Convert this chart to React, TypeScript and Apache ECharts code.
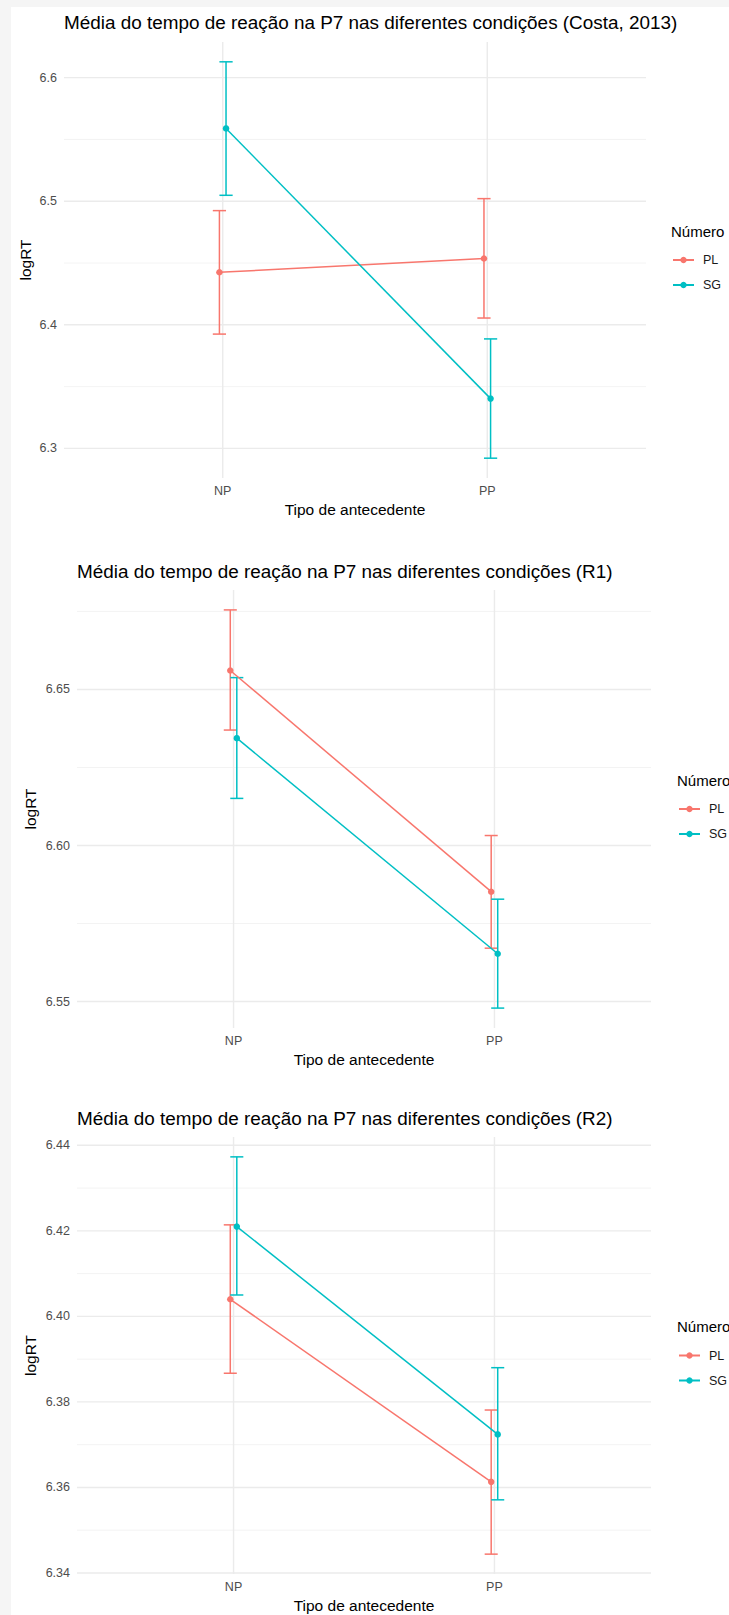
import React, { useEffect, useRef } from 'react';
import * as echarts from 'echarts';

// ---------- data ----------
const categories = ['NP', 'PP'];
const groups = ['PL', 'SG'];
const groupColors = ['#F8766D', '#00BFC4'];

const titles = [
  'Média do tempo de reação na P7 nas diferentes condições (Costa, 2013)',
  'Média do tempo de reação na P7 nas diferentes condições (R1)',
  'Média do tempo de reação na P7 nas diferentes condições (R2)',
];
const xAxisTitle = 'Tipo de antecedente';
const yAxisTitle = 'logRT';
const legendTitle = 'Número';

// Costa, 2013
const costaPLMean = [6.4425, 6.4537];
const costaPLLow = [6.3925, 6.4055];
const costaPLHigh = [6.4924, 6.5021];
const costaSGMean = [6.5589, 6.3403];
const costaSGLow = [6.5048, 6.2921];
const costaSGHigh = [6.6128, 6.3886];
const costaYTicks = [6.3, 6.4, 6.5, 6.6];
const costaYMinor = [6.35, 6.45, 6.55];

// R1
const r1PLMean = [6.6561, 6.5852];
const r1PLLow = [6.637, 6.5671];
const r1PLHigh = [6.6755, 6.6032];
const r1SGMean = [6.6344, 6.5653];
const r1SGLow = [6.6151, 6.5479];
const r1SGHigh = [6.6538, 6.5828];
const r1YTicks = [6.55, 6.6, 6.65];
const r1YMinor = [6.575, 6.625, 6.675];

// R2
const r2PLMean = [6.404, 6.3613];
const r2PLLow = [6.3867, 6.3444];
const r2PLHigh = [6.4214, 6.3781];
const r2SGMean = [6.421, 6.3724];
const r2SGLow = [6.405, 6.3571];
const r2SGHigh = [6.4373, 6.388];
const r2YTicks = [6.34, 6.36, 6.38, 6.4, 6.42, 6.44];
const r2YMinor = [6.35, 6.37, 6.39, 6.41, 6.43];

// ---------- layout ----------
const FONT = '"Liberation Sans", Arial, Helvetica, sans-serif';
const layouts = [
  { left: 64, top: 42, width: 582, height: 436, titleY: 22.5, yTitleX: 25, decimals: 1, legendX: 672 },
  { left: 77, top: 590, width: 574, height: 438, titleY: 571, yTitleX: 30, decimals: 2, legendX: 678 },
  { left: 77, top: 1137, width: 574, height: 437, titleY: 1118.5, yTitleX: 30, decimals: 2, legendX: 678 },
];
const DODGE = 0.0125;
const CAP = 0.025;

const panels = [
  {
    title: titles[0],
    series: [
      { mean: costaPLMean, low: costaPLLow, high: costaPLHigh },
      { mean: costaSGMean, low: costaSGLow, high: costaSGHigh },
    ],
    ticks: costaYTicks,
    minor: costaYMinor,
  },
  {
    title: titles[1],
    series: [
      { mean: r1PLMean, low: r1PLLow, high: r1PLHigh },
      { mean: r1SGMean, low: r1SGLow, high: r1SGHigh },
    ],
    ticks: r1YTicks,
    minor: r1YMinor,
  },
  {
    title: titles[2],
    series: [
      { mean: r2PLMean, low: r2PLLow, high: r2PLHigh },
      { mean: r2SGMean, low: r2SGLow, high: r2SGHigh },
    ],
    ticks: r2YTicks,
    minor: r2YMinor,
  },
];

function textEl(text: string, x: number, y: number, size: number, opts: any = {}) {
  const align = opts.align || 'left';
  return {
    type: 'text',
    x,
    y,
    rotation: opts.rotation || 0,
    silent: true,
    z: 10,
    style: {
      text,
      font: `${size}px ${FONT}`,
      fill: opts.fill || '#000000',
      align,
      textAlign: align,
      verticalAlign: 'middle',
      textVerticalAlign: 'middle',
    },
  };
}

function buildOption() {
  const grid: any[] = [];
  const xAxis: any[] = [];
  const yAxis: any[] = [];
  const series: any[] = [];
  const legend: any[] = [];
  const graphic: any[] = [];

  panels.forEach((p, i) => {
    const L = layouts[i];
    const allLow = Math.min(...p.series.flatMap((s) => s.low));
    const allHigh = Math.max(...p.series.flatMap((s) => s.high));
    const range = allHigh - allLow;
    const yMin = allLow - 0.05 * range;
    const yMax = allHigh + 0.05 * range;

    grid.push({ left: L.left, top: L.top, width: L.width, height: L.height, containLabel: false });
    xAxis.push({
      type: 'value',
      gridIndex: i,
      min: 0.4,
      max: 2.6,
      axisLine: { show: false },
      axisTick: { show: false },
      splitLine: { show: false },
      axisLabel: {
        customValues: [1, 2],
        margin: 6,
        color: '#4d4d4d',
        fontSize: 12.5,
        fontFamily: FONT,
        formatter: (v: number) => {
          const r = Math.round(v);
          return Math.abs(v - r) < 1e-6 && categories[r - 1] ? categories[r - 1] : '';
        },
      },
    });
    yAxis.push({
      type: 'value',
      gridIndex: i,
      min: yMin,
      max: yMax,
      axisLine: { show: false },
      axisTick: { show: false },
      splitLine: { show: false },
      axisLabel: {
        customValues: p.ticks,
        margin: 7,
        color: '#4d4d4d',
        fontSize: 12.5,
        fontFamily: FONT,
        formatter: (v: number) =>
          p.ticks.some((t) => Math.abs(t - v) < 1e-9) ? v.toFixed(L.decimals) : '',
      },
    });

    // horizontal grid lines (major + minor)
    series.push({
      type: 'custom',
      name: 'hgrid' + i,
      xAxisIndex: i,
      yAxisIndex: i,
      silent: true,
      z: 0,
      encode: { y: 0, x: 1 },
      data: [...p.ticks.map((v) => [v, 1]), ...p.minor.map((v) => [v, 0])],
      renderItem: (params: any, api: any) => {
        const cs = params.coordSys;
        const y = api.coord([1, api.value(0)])[1];
        const major = api.value(1) === 1;
        return {
          type: 'line',
          shape: { x1: cs.x, y1: y, x2: cs.x + cs.width, y2: y },
          style: { stroke: major ? '#EBEBEB' : '#F2F2F2', lineWidth: major ? 1.4 : 0.9 },
          silent: true,
        };
      },
    });
    // vertical grid lines at categories
    series.push({
      type: 'custom',
      name: 'vgrid' + i,
      xAxisIndex: i,
      yAxisIndex: i,
      silent: true,
      z: 0,
      encode: { x: 0, y: 1 },
      data: categories.map((_, k) => [k + 1, yMin]),
      renderItem: (params: any, api: any) => {
        const cs = params.coordSys;
        const x = api.coord([api.value(0), yMin])[0];
        return {
          type: 'line',
          shape: { x1: x, y1: cs.y, x2: x, y2: cs.y + cs.height },
          style: { stroke: '#EBEBEB', lineWidth: 1.4 },
          silent: true,
        };
      },
    });

    p.series.forEach((s, g) => {
      const color = groupColors[g];
      const off = g === 0 ? -DODGE : DODGE;
      // error bars
      series.push({
        type: 'custom',
        name: groups[g] + ' erro ' + i,
        xAxisIndex: i,
        yAxisIndex: i,
        silent: true,
        z: 2,
        encode: { x: 0, y: [1, 2] },
        data: categories.map((_, k) => [k + 1 + off, s.low[k], s.high[k]]),
        renderItem: (params: any, api: any) => {
          const x = api.value(0);
          const lo = api.value(1);
          const hi = api.value(2);
          const pLo = api.coord([x, lo]);
          const pHi = api.coord([x, hi]);
          const cl = api.coord([x - CAP, hi])[0];
          const cr = api.coord([x + CAP, hi])[0];
          const style = { stroke: color, lineWidth: 1.5 };
          return {
            type: 'group',
            children: [
              { type: 'line', shape: { x1: pLo[0], y1: pLo[1], x2: pHi[0], y2: pHi[1] }, style },
              { type: 'line', shape: { x1: cl, y1: pHi[1], x2: cr, y2: pHi[1] }, style },
              { type: 'line', shape: { x1: cl, y1: pLo[1], x2: cr, y2: pLo[1] }, style },
            ],
          };
        },
      });
      // means + lines
      series.push({
        type: 'line',
        name: groups[g],
        xAxisIndex: i,
        yAxisIndex: i,
        z: 3,
        data: categories.map((_, k) => [k + 1 + off, s.mean[k]]),
        symbol: 'circle',
        symbolSize: 6.5,
        showSymbol: true,
        color,
        itemStyle: { color },
        lineStyle: { color, width: 1.5 },
        emphasis: { disabled: true },
        silent: true,
      });
    });

    const midY = L.top + L.height / 2;
    legend.push({
      data: groups,
      orient: 'vertical',
      left: L.legendX,
      top: midY - 7,
      padding: 0,
      itemWidth: 21,
      itemHeight: 8,
      itemGap: 11,
      selectedMode: false,
      textStyle: { fontSize: 12.5, fontFamily: FONT, color: '#1a1a1a', lineHeight: 14, padding: [0, 0, 0, 4] },
    });

    graphic.push(textEl(p.title, L.left, L.titleY, 18.9));
    graphic.push(textEl(xAxisTitle, L.left + L.width / 2, L.top + L.height + 31, 15.5, { align: 'center' }));
    graphic.push(textEl(yAxisTitle, L.yTitleX, midY, 15.5, { align: 'center', rotation: Math.PI / 2 }));
    graphic.push(textEl(legendTitle, L.legendX - 1, midY - 29, 15));
  });

  return {
    animation: false,
    backgroundColor: 'transparent',
    grid,
    xAxis,
    yAxis,
    series,
    legend,
    graphic: { elements: graphic },
  };
}

export default function App() {
  const ref = useRef<HTMLDivElement>(null);
  useEffect(() => {
    if (!ref.current) return;
    const chart = echarts.init(ref.current, null, { renderer: 'svg', width: 729, height: 1615 });
    chart.setOption(buildOption());
    return () => chart.dispose();
  }, []);
  return (
    <div
      style={{
        position: 'absolute',
        left: 0,
        top: 0,
        width: 729,
        height: 1615,
        background: '#f5f5f5',
        overflow: 'hidden',
      }}
    >
      <div style={{ position: 'absolute', left: 11, top: 7, right: 0, bottom: 0, background: '#ffffff' }} />
      <div ref={ref} style={{ position: 'absolute', left: 0, top: 0, width: 729, height: 1615 }} />
    </div>
  );
}
